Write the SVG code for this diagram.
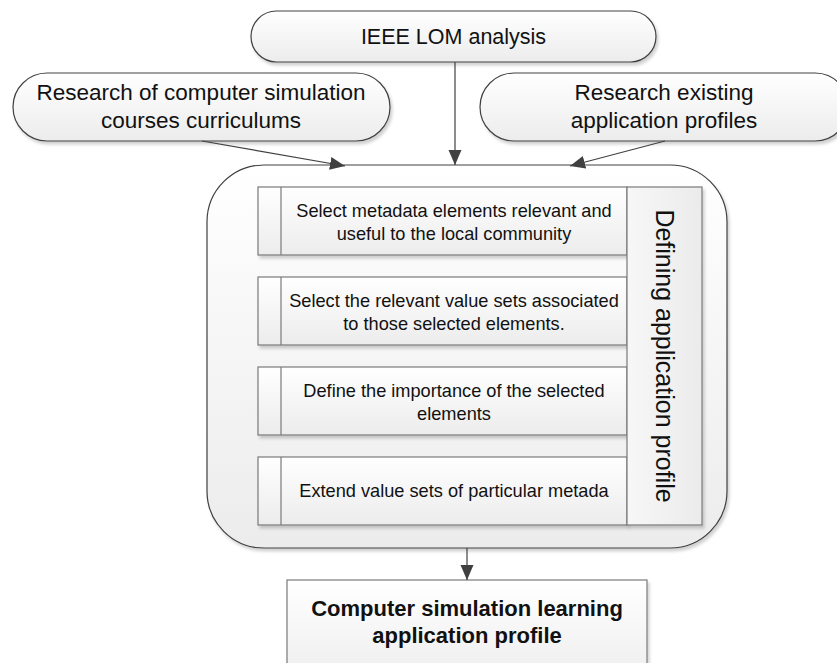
<svg xmlns="http://www.w3.org/2000/svg" width="837" height="663" viewBox="0 0 837 663">
<defs>
<linearGradient id="g" x1="0" y1="0" x2="0" y2="1">
<stop offset="0" stop-color="#ffffff"/>
<stop offset="1" stop-color="#ececec"/>
</linearGradient>
<linearGradient id="g2" x1="0" y1="0" x2="1" y2="0">
<stop offset="0" stop-color="#f7f7f7"/>
<stop offset="1" stop-color="#ebebeb"/>
</linearGradient>
<filter id="sh" x="-5%" y="-5%" width="115%" height="120%">
<feDropShadow dx="2" dy="3" stdDeviation="1.5" flood-color="#000" flood-opacity="0.18"/>
</filter>
<marker id="arr" markerUnits="userSpaceOnUse" markerWidth="16" markerHeight="14" refX="15" refY="6.5" orient="auto">
<path d="M0,0 L15,6.5 L0,13 z" fill="#404040"/>
</marker>
<style>
.pill{fill:url(#g);stroke:#404040;stroke-width:1.2;filter:url(#sh)}
.row{fill:url(#g);stroke:#7a7a7a;stroke-width:1.2;filter:url(#sh)}
.div{stroke:#7a7a7a;stroke-width:1.2}
.t{font-family:"Liberation Sans",Arial,sans-serif;fill:#111;text-anchor:middle}
.big{font-size:21.5px}
.big2{font-size:22.5px}
.small{font-size:18.2px}
.conn{stroke:#404040;stroke-width:1.2;fill:none;marker-end:url(#arr)}
</style>
</defs>
<rect width="837" height="663" fill="#ffffff"/>

<g id="ieee">
<rect class="pill" x="251" y="11" width="405" height="51" rx="25.5" ry="25.5"/>
<text class="t big" x="453.5" y="44">IEEE LOM analysis</text>
</g>

<g id="research-curricula">
<rect class="pill" x="13" y="73" width="377" height="68" rx="34" ry="34"/>
<text class="t big2" x="201" y="100">Research of computer simulation</text>
<text class="t big2" x="201" y="128">courses curriculums</text>
</g>

<g id="research-profiles">
<rect class="pill" x="480" y="73" width="369" height="68" rx="34" ry="34"/>
<text class="t big2" x="664" y="100">Research existing</text>
<text class="t big2" x="664" y="128">application profiles</text>
</g>

<g id="defining">
<rect class="pill" x="207" y="165" width="520" height="383" rx="57" ry="57"/>
<g id="step1">
<rect class="row" x="258" y="187" width="369" height="68"/>
<line class="div" x1="281" y1="187" x2="281" y2="255"/>
<text class="t small" x="454" y="217">Select metadata elements relevant and</text>
<text class="t small" x="454" y="240">useful to the local community</text>
</g>
<g id="step2">
<rect class="row" x="258" y="277" width="369" height="68"/>
<line class="div" x1="281" y1="277" x2="281" y2="345"/>
<text class="t small" x="454" y="307">Select the relevant value sets associated</text>
<text class="t small" x="454" y="330">to those selected elements.</text>
</g>
<g id="step3">
<rect class="row" x="258" y="367" width="369" height="68"/>
<line class="div" x1="281" y1="367" x2="281" y2="435"/>
<text class="t small" x="454" y="397">Define the importance of the selected</text>
<text class="t small" x="454" y="420">elements</text>
</g>
<g id="step4">
<rect class="row" x="258" y="457" width="369" height="68"/>
<line class="div" x1="281" y1="457" x2="281" y2="525"/>
<text class="t small" x="454" y="497">Extend value sets of particular metada</text>
</g>
<g id="defining-label">
<rect x="627" y="187" width="75" height="338" fill="url(#g2)" stroke="#7a7a7a" stroke-width="1.2" filter="url(#sh)"/>
<text class="t" font-size="25" transform="translate(665,356) rotate(90)" y="9">Defining application profile</text>
</g>
</g>

<g id="result">
<rect x="287" y="580" width="360" height="110" fill="url(#g)" stroke="#7a7a7a" stroke-width="1.2" filter="url(#sh)"/>
<text class="t" font-size="22" font-weight="bold" x="467" y="616">Computer simulation learning</text>
<text class="t" font-size="22" font-weight="bold" x="467" y="643">application profile</text>
</g>

<g id="connectors">
<path class="conn" d="M455,62 L455,165"/>
<path class="conn" d="M202,141 L345,166"/>
<path class="conn" d="M665,141 L570,166"/>
<path class="conn" d="M467,548 L467,580"/>
</g>
</svg>
